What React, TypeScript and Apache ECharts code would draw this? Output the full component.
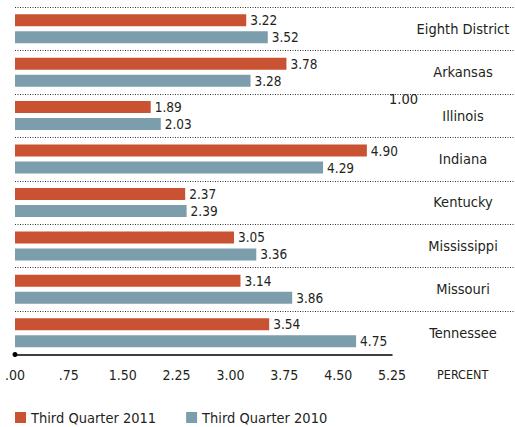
import React, { useEffect, useRef } from "react";
import * as echarts from "echarts";

const categories = ["Eighth District", "Arkansas", "Illinois", "Indiana", "Kentucky", "Mississippi", "Missouri", "Tennessee"];
const q2011 = [3.22, 3.78, 1.89, 4.9, 2.37, 3.05, 3.14, 3.54];
const q2010 = [3.52, 3.28, 2.03, 4.29, 2.39, 3.36, 3.86, 4.75];
const seriesNames = ["Third Quarter 2011", "Third Quarter 2010"];
const xMax = 5.25;
const xInterval = 0.75;

const FONT = "'DejaVu Sans Condensed', 'Liberation Sans Narrow', sans-serif";
const TXT = "#231f20";
const RED = "#c95233";
const BLUE = "#7b9dac";

const fmt = (v: number) => {
  const s = v.toFixed(2);
  return s.startsWith("0") ? s.slice(1) : s;
};

export default function App() {
  const ref = useRef<HTMLDivElement>(null);
  useEffect(() => {
    const chart = echarts.init(ref.current!, null, { renderer: "svg" });
    chart.setOption({
      animation: false,
      backgroundColor: "#ffffff",
      grid: [
        { left: 15, right: 0, top: 7, height: 347.5 },
        { left: 15, width: 377, top: 7, height: 347.5 },
      ],
      xAxis: [
        { gridIndex: 0, type: "value", min: 0, max: 1, show: false },
        {
          gridIndex: 1,
          type: "value",
          min: 0,
          max: xMax,
          interval: xInterval,
          axisLine: {
            show: true,
            onZero: false,
            symbol: ["circle", "none"],
            symbolSize: [5, 5],
            lineStyle: { color: "#000", width: 1.5 },
          },
          axisTick: { show: false },
          splitLine: { show: false },
          axisLabel: {
            formatter: (v: number) => fmt(v),
            fontFamily: FONT,
            fontSize: 14,
            color: TXT,
            margin: 13,
          },
        },
      ],
      yAxis: [
        {
          gridIndex: 0,
          type: "category",
          data: categories,
          inverse: true,
          position: "right",
          axisLine: { show: false },
          axisTick: { show: false },
          splitLine: {
            show: true,
            showMaxLine: false,
            lineStyle: { color: "#333", type: [1, 1.5], width: 1 },
          },
          axisLabel: {
            inside: true,
            align: "center",
            margin: 52,
            fontFamily: FONT,
            fontSize: 14.5,
            color: TXT,
            padding: [0, 0, 3, 0],
          },
        },
        {
          gridIndex: 1,
          type: "category",
          data: categories,
          inverse: true,
          show: false,
        },
      ],
      legend: {
        left: 10,
        top: 405,
        itemWidth: 11,
        itemHeight: 11,
        itemGap: 30,
        icon: "rect",
        textStyle: { fontFamily: FONT, fontSize: 14.5, color: TXT },
        data: seriesNames,
      },
      graphic: [
        {
          type: "text",
          left: 437,
          top: 368,
          style: { text: "PERCENT", fontFamily: FONT, fontSize: 12.5, fill: TXT },
        },
        {
          type: "text",
          left: 389,
          top: 91,
          style: { text: "1.00", fontFamily: FONT, fontSize: 14.5, fill: TXT },
        },
      ],
      series: [
        {
          name: seriesNames[0],
          type: "bar",
          xAxisIndex: 1,
          yAxisIndex: 1,
          data: q2011,
          barWidth: 12,
          barGap: "42%",
          itemStyle: { color: RED },
          label: {
            show: true,
            position: "right",
            distance: 4,
            formatter: (p: any) => p.value.toFixed(2),
            fontFamily: FONT,
            fontSize: 13.5,
            color: TXT,
          },
        },
        {
          name: seriesNames[1],
          type: "bar",
          xAxisIndex: 1,
          yAxisIndex: 1,
          data: q2010,
          barWidth: 12,
          barGap: "42%",
          itemStyle: { color: BLUE },
          label: {
            show: true,
            position: "right",
            distance: 4,
            formatter: (p: any) => p.value.toFixed(2),
            fontFamily: FONT,
            fontSize: 13.5,
            color: TXT,
          },
        },
      ],
    });
    return () => chart.dispose();
  }, []);
  return <div ref={ref} style={{ width: 515, height: 427, position: "absolute", left: 0, top: 0 }} />;
}
